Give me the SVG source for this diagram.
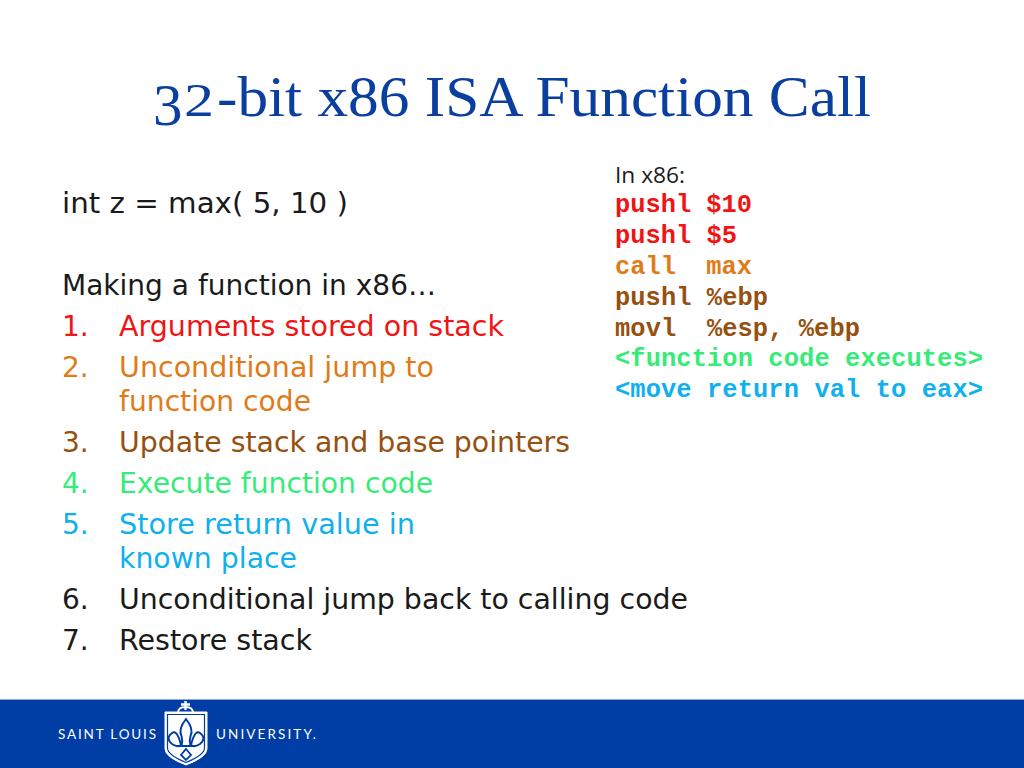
<svg xmlns="http://www.w3.org/2000/svg" width="1024" height="768" viewBox="0 0 1024 768">
<style>
.b{font-family:"DejaVu Sans",Verdana,sans-serif;font-size:28px}
.m{font-family:"Liberation Mono","Courier New",monospace;font-size:25.4px;font-weight:bold;white-space:pre}
.l{font-family:"Lato","Open Sans",sans-serif;font-size:13.5px;fill:#fff}
.k{fill:#1a1a1a}.r{fill:#f01414}.o{fill:#e07b1a}.n{fill:#96500f}.g{fill:#35ec78}.c{fill:#0fb0ee}
</style>
<rect width="1024" height="768" fill="#fff"/>
<g id="title"><text y="116" font-family="'Liberation Serif','Times New Roman',serif" font-size="56" fill="#0a3fa0"><tspan x="153" y="125" font-size="59">3</tspan><tspan x="184" y="116" font-size="46" textLength="30" lengthAdjust="spacingAndGlyphs">2</tspan><tspan x="217" y="116" textLength="654" lengthAdjust="spacingAndGlyphs">-bit x86 ISA Function Call</tspan></text></g>
<g id="body">
<text class="b k" x="62" y="213" textLength="286" lengthAdjust="spacingAndGlyphs">int z = max( 5, 10 )</text>
<text class="b k" x="62" y="295" textLength="374" lengthAdjust="spacingAndGlyphs">Making a function in x86…</text>
<text class="b r" x="62" y="336">1.</text><text class="b r" x="119" y="336" textLength="385" lengthAdjust="spacingAndGlyphs">Arguments stored on stack</text>
<text class="b o" x="62" y="377">2.</text><text class="b o" x="119" y="377" textLength="315" lengthAdjust="spacingAndGlyphs">Unconditional jump to</text>
<text class="b o" x="119" y="411" textLength="192" lengthAdjust="spacingAndGlyphs">function code</text>
<text class="b n" x="62" y="452">3.</text><text class="b n" x="119" y="452" textLength="451" lengthAdjust="spacingAndGlyphs">Update stack and base pointers</text>
<text class="b g" x="62" y="493">4.</text><text class="b g" x="119" y="493" textLength="314" lengthAdjust="spacingAndGlyphs">Execute function code</text>
<text class="b c" x="62" y="534">5.</text><text class="b c" x="119" y="534" textLength="296" lengthAdjust="spacingAndGlyphs">Store return value in</text>
<text class="b c" x="119" y="568" textLength="178" lengthAdjust="spacingAndGlyphs">known place</text>
<text class="b k" x="62" y="609">6.</text><text class="b k" x="119" y="609" textLength="569" lengthAdjust="spacingAndGlyphs">Unconditional jump back to calling code</text>
<text class="b k" x="62" y="650">7.</text><text class="b k" x="119" y="650" textLength="193" lengthAdjust="spacingAndGlyphs">Restore stack</text>
</g>
<g id="code">
<text x="615" y="183" font-family="'Open Sans','Noto Sans',sans-serif" font-size="21" fill="#1a1a1a" textLength="70" lengthAdjust="spacingAndGlyphs">In x86:</text>
<text class="m r" x="615" y="212" textLength="137">pushl $10</text>
<text class="m r" x="615" y="243" textLength="122">pushl $5</text>
<text class="m o" x="615" y="274" textLength="137">call  max</text>
<text class="m n" x="615" y="305" textLength="153">pushl %ebp</text>
<text class="m n" x="615" y="336" textLength="245">movl  %esp, %ebp</text>
<text class="m g" x="615" y="366" textLength="368">&lt;function code executes&gt;</text>
<text class="m c" x="615" y="397" textLength="368">&lt;move return val to eax&gt;</text>
</g>
<g id="footer">
<rect y="699" width="1024" height="69" fill="#003da5"/>
<rect y="699" width="1024" height="1" fill="#8fa8d8"/>
<text class="l" x="58" y="739" textLength="98">SAINT LOUIS</text>
<text class="l" x="216" y="739" textLength="100">UNIVERSITY.</text>
<g id="logo" stroke="#fff" fill="none">
<path d="M185.500 701V710M181 704.500H190" stroke-width="2.400"/>
<path d="M178 713Q178 707 185.500 707Q193 707 193 713" stroke-width="1.800"/>
<path d="M165 712H207V749Q207 757 186 765Q165 757 165 749Z" fill="#fff" stroke-width="1"/>
<path d="M167.500 714.500H204.500V748Q204.500 755 186 762.500Q167.500 755 167.500 748Z" fill="#fff" stroke="#003da5" stroke-width="1.200"/>
<path d="M186 719Q178 729 181.500 736Q183 741 181.500 746H190.500Q189 741 190.500 736Q194 729 186 719Z" stroke="#003da5" stroke-width="2"/>
<path d="M181 745Q177 729 172 733Q165 738 172 744M191 745Q195 729 200 733Q207 738 200 744M172 744Q178 748 181 745M200 744Q194 748 191 745M176 746H196" stroke="#003da5" stroke-width="2"/>
<path d="M186 749L191 755L186 760L181 755Z" stroke="#003da5" stroke-width="1.800"/>
</g>
</g>
</svg>
